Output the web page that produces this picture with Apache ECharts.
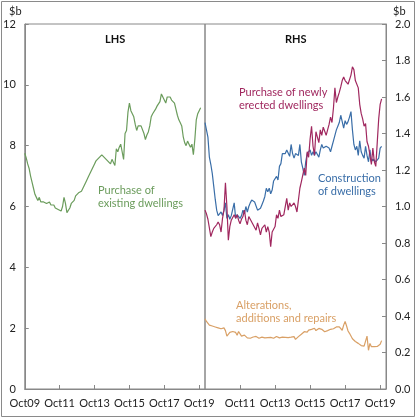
<!DOCTYPE html>
<html>
<head>
<meta charset="utf-8">
<script src="https://cdn.jsdelivr.net/npm/echarts@6/dist/echarts.min.js"></script>
<style>
  html, body { margin: 0; padding: 0; background: #fff; }
  #main { width: 418px; height: 418px; }
</style>
</head>
<body>
<div id="main"></div>
<script>
'use strict';

/* ===== data (monthly, Oct09 onwards) ===== */
var monthNames = ['Jan', 'Feb', 'Mar', 'Apr', 'May', 'Jun', 'Jul', 'Aug', 'Sep', 'Oct', 'Nov', 'Dec'];

// LHS, $b
var existingDwellings = [
  7.75, 7.6, 7.4, 7.25, 7.0, 6.8, 6.6, 6.4, 6.3, 6.2, 6.3, 6.15,
  6.2, 6.15, 6.2, 6.1, 6.1, 6.15, 6.05, 6.0, 6.05, 5.95, 6.0, 5.9,
  5.95, 5.85, 6.0, 6.3, 6.1, 5.8, 5.75, 5.95, 6.1, 6.05, 6.2, 6.35,
  6.3, 6.45, 6.4, 6.5, 6.6, 6.7, 6.8, 6.85, 7.0, 7.1, 7.2, 7.15,
  7.4, 7.5, 7.45, 7.6, 7.55, 7.7, 7.65, 7.6, 7.65, 7.5, 7.55, 7.4,
  7.55, 7.6, 7.35, 7.9, 7.8, 7.95, 8.05, 7.8, 7.55, 8.4, 8.5, 9.1,
  9.4, 9.15, 9.05, 8.95, 8.7, 8.5, 8.65, 8.6, 8.65, 8.6, 8.4, 8.2,
  8.35, 8.45, 8.65, 8.95, 9.05, 9.1, 9.2, 9.3, 9.3, 9.45, 9.7, 9.6,
  9.5, 9.4, 9.6, 9.55, 9.6, 9.5, 9.55, 9.4, 9.2, 9.0, 8.85, 8.75,
  8.65, 8.3, 8.1, 8.0, 8.15, 8.05, 7.95, 8.05, 7.7, 8.2, 8.85, 9.05,
  9.1, 9.25
];

// RHS, $b
var newlyErected = [
  0.98, 0.96, 0.93, 0.935, 0.835, 0.86, 0.88, 0.89, 0.9, 0.915, 0.9, 0.86,
  0.935, 0.98, 1.13, 1.0, 0.815, 0.89, 0.925, 0.92, 0.955, 0.935, 0.955, 0.925,
  0.905, 0.93, 0.945, 0.98, 0.925, 0.9, 0.945, 0.935, 0.915, 0.9, 0.905, 0.87,
  0.91, 0.88, 0.845, 0.88, 0.89, 0.9, 0.86, 0.89, 0.86, 0.78, 0.86, 0.87,
  0.89, 0.955, 0.935, 0.98, 0.945, 0.935, 0.955, 0.96, 1.045, 0.98, 1.02, 1.0,
  0.99, 1.02, 1.0, 0.97, 0.97, 1.1, 1.135, 1.125, 1.21, 1.17, 1.3, 1.27,
  1.37, 1.44, 1.33, 1.28, 1.41, 1.38, 1.35, 1.42, 1.39, 1.435, 1.435, 1.39,
  1.42, 1.45, 1.49, 1.46, 1.54, 1.65, 1.57, 1.6, 1.625, 1.655, 1.69, 1.71,
  1.69, 1.68, 1.67, 1.68, 1.72, 1.765, 1.75, 1.69, 1.7, 1.65, 1.56, 1.51,
  1.48, 1.44, 1.455, 1.355, 1.33, 1.28, 1.23, 1.32, 1.245, 1.22, 1.35, 1.48,
  1.56, 1.59
];

var construction = [
  1.46, 1.42, 1.38, 1.27, 1.23, 1.18, 1.11, 1.04, 0.98, 0.95, 0.96, 0.97,
  0.95, 0.98, 1.02, 0.935, 0.955, 0.93, 0.95, 0.96, 1.02, 0.935, 0.955, 0.96,
  0.935, 0.95, 0.98, 0.96, 1.0, 0.97, 1.0, 1.02, 1.035, 1.045, 1.025, 1.035,
  0.98, 0.97, 0.99, 1.01, 1.03, 1.055, 1.1, 1.08, 1.1, 1.07, 1.09, 1.14,
  1.15, 1.165, 1.145, 1.22, 1.235, 1.29, 1.3, 1.29, 1.31, 1.3, 1.275, 1.34,
  1.29, 1.265, 1.29, 1.28, 1.28, 1.34, 1.245, 1.21, 1.17, 1.245, 1.29, 1.28,
  1.31, 1.28, 1.3, 1.28, 1.3, 1.29, 1.27, 1.31, 1.34, 1.32, 1.31, 1.33,
  1.34, 1.32, 1.3, 1.33, 1.36, 1.39, 1.42, 1.44, 1.46, 1.5, 1.465, 1.43,
  1.47, 1.45, 1.465, 1.49, 1.52, 1.42, 1.34, 1.31, 1.33, 1.28, 1.36, 1.3,
  1.28, 1.265, 1.33, 1.28, 1.245, 1.31, 1.245, 1.26, 1.265, 1.245, 1.255, 1.265,
  1.32, 1.33
];

var alterations = [
  0.385, 0.37, 0.36, 0.35, 0.35, 0.345, 0.34, 0.34, 0.335, 0.335, 0.33, 0.33,
  0.32, 0.335, 0.32, 0.29, 0.285, 0.31, 0.305, 0.315, 0.32, 0.31, 0.295, 0.315,
  0.305, 0.29, 0.29, 0.295, 0.285, 0.28, 0.28, 0.278, 0.282, 0.285, 0.28, 0.288,
  0.282, 0.278, 0.278, 0.284, 0.287, 0.28, 0.278, 0.282, 0.285, 0.283, 0.28, 0.278,
  0.283, 0.288, 0.284, 0.28, 0.287, 0.284, 0.28, 0.283, 0.288, 0.282, 0.278, 0.284,
  0.28, 0.287, 0.272, 0.268, 0.287, 0.296, 0.3, 0.305, 0.314, 0.322, 0.312, 0.323,
  0.315, 0.327, 0.33, 0.333, 0.32, 0.323, 0.332, 0.322, 0.327, 0.325, 0.314, 0.323,
  0.32, 0.323, 0.327, 0.332, 0.33, 0.336, 0.34, 0.332, 0.34, 0.333, 0.322, 0.35,
  0.37, 0.345, 0.318, 0.305, 0.29, 0.275, 0.27, 0.26, 0.255, 0.25, 0.243, 0.238,
  0.232, 0.235, 0.23, 0.29, 0.212, 0.25, 0.232, 0.236, 0.232, 0.236, 0.233, 0.238,
  0.245, 0.265
];

// x categories: Oct09 .. Feb20 (axis runs a few months past the last data point)
var months = [];
for (var i = 0; i < 125; i++) {
  var mi = (9 + i) % 12;
  var yr = 9 + Math.floor((9 + i) / 12);
  months.push(monthNames[mi] + (yr < 10 ? '0' + yr : '' + yr));
}

var GREEN = '#6b9c5c';
var PURPLE = '#a0285f';
var BLUE = '#3a6ea8';
var ORANGE = '#d9a066';
var AXIS = '#888888';
var FONT = 'Lato';

function xAxis(gridIndex, showFirst) {
  var every = function (idx) { return idx % 24 === 0 && (showFirst || idx > 0); };
  return {
    type: 'category',
    gridIndex: gridIndex,
    data: months,
    boundaryGap: false,
    axisLine: { lineStyle: { color: AXIS } },
    axisTick: { inside: true, length: 4, interval: every, lineStyle: { color: AXIS } },
    axisLabel: { interval: every, color: '#222', fontFamily: FONT, fontSize: 11, margin: 9 },
    splitLine: { show: false }
  };
}

function line(name, data, color, xi, yi) {
  return {
    name: name,
    type: 'line',
    xAxisIndex: xi,
    yAxisIndex: yi,
    data: data,
    showSymbol: false,
    silent: true,
    lineStyle: { color: color, width: 1.2 }
  };
}

function label(text, x, y, color, bold, align) {
  return {
    type: 'text',
    left: x,
    top: y,
    style: {
      text: text,
      fill: color,
      font: (bold ? 'bold ' : '') + '11px ' + FONT,
      lineHeight: 13,
      align: align || 'left'
    }
  };
}

var myChart = echarts.init(document.getElementById('main'), null, { renderer: 'canvas' });

var option = {
  animation: false,
  backgroundColor: '#fff',
  grid: [
    { left: 23, right: 213, top: 24, bottom: 29, show: true, borderColor: AXIS, borderWidth: 1 },
    { left: 205, right: 32, top: 24, bottom: 29, show: true, borderColor: AXIS, borderWidth: 1 }
  ],
  xAxis: [xAxis(0, true), xAxis(1, false)],
  yAxis: [
    {
      type: 'value', gridIndex: 0, position: 'left', min: 0, max: 12, interval: 2,
      axisLine: { show: true, lineStyle: { color: AXIS } },
      axisTick: { show: true, inside: true, length: 4, lineStyle: { color: AXIS } },
      axisLabel: { color: '#222', fontFamily: FONT, fontSize: 11, margin: 9 },
      splitLine: { show: false }
    },
    {
      type: 'value', gridIndex: 1, position: 'right', min: 0, max: 2, interval: 0.2,
      axisLine: { show: true, lineStyle: { color: AXIS } },
      axisTick: { show: true, inside: true, length: 4, lineStyle: { color: AXIS } },
      axisLabel: {
        color: '#222', fontFamily: FONT, fontSize: 11, margin: 9,
        formatter: function (v) { return v.toFixed(1); }
      },
      splitLine: { show: false }
    }
  ],
  graphic: [
    {
      type: 'rect',
      shape: { x: 1.5, y: 1.5, width: 413, height: 415 },
      style: { fill: 'none', stroke: '#8a8a8a', lineWidth: 1 },
      silent: true
    },
    label('$b', 9, 5, '#222'),
    label('$b', 393, 5, '#222'),
    label('LHS', 105, 33, '#111', true),
    label('RHS', 285, 33, '#111', true),
    label('Purchase of\nexisting dwellings', 98, 184, GREEN),
    label('Purchase of newly\nerected dwellings', 239, 86, PURPLE),
    label('Construction\nof dwellings', 318, 172, BLUE),
    label('Alterations,\nadditions and repairs', 236, 299, ORANGE)
  ],
  series: [
    line('Purchase of existing dwellings', existingDwellings, GREEN, 0, 0),
    line('Alterations, additions and repairs', alterations, ORANGE, 1, 1),
    line('Construction of dwellings', construction, BLUE, 1, 1),
    line('Purchase of newly erected dwellings', newlyErected, PURPLE, 1, 1)
  ]
};

myChart.setOption(option);
</script>
</body>
</html>
